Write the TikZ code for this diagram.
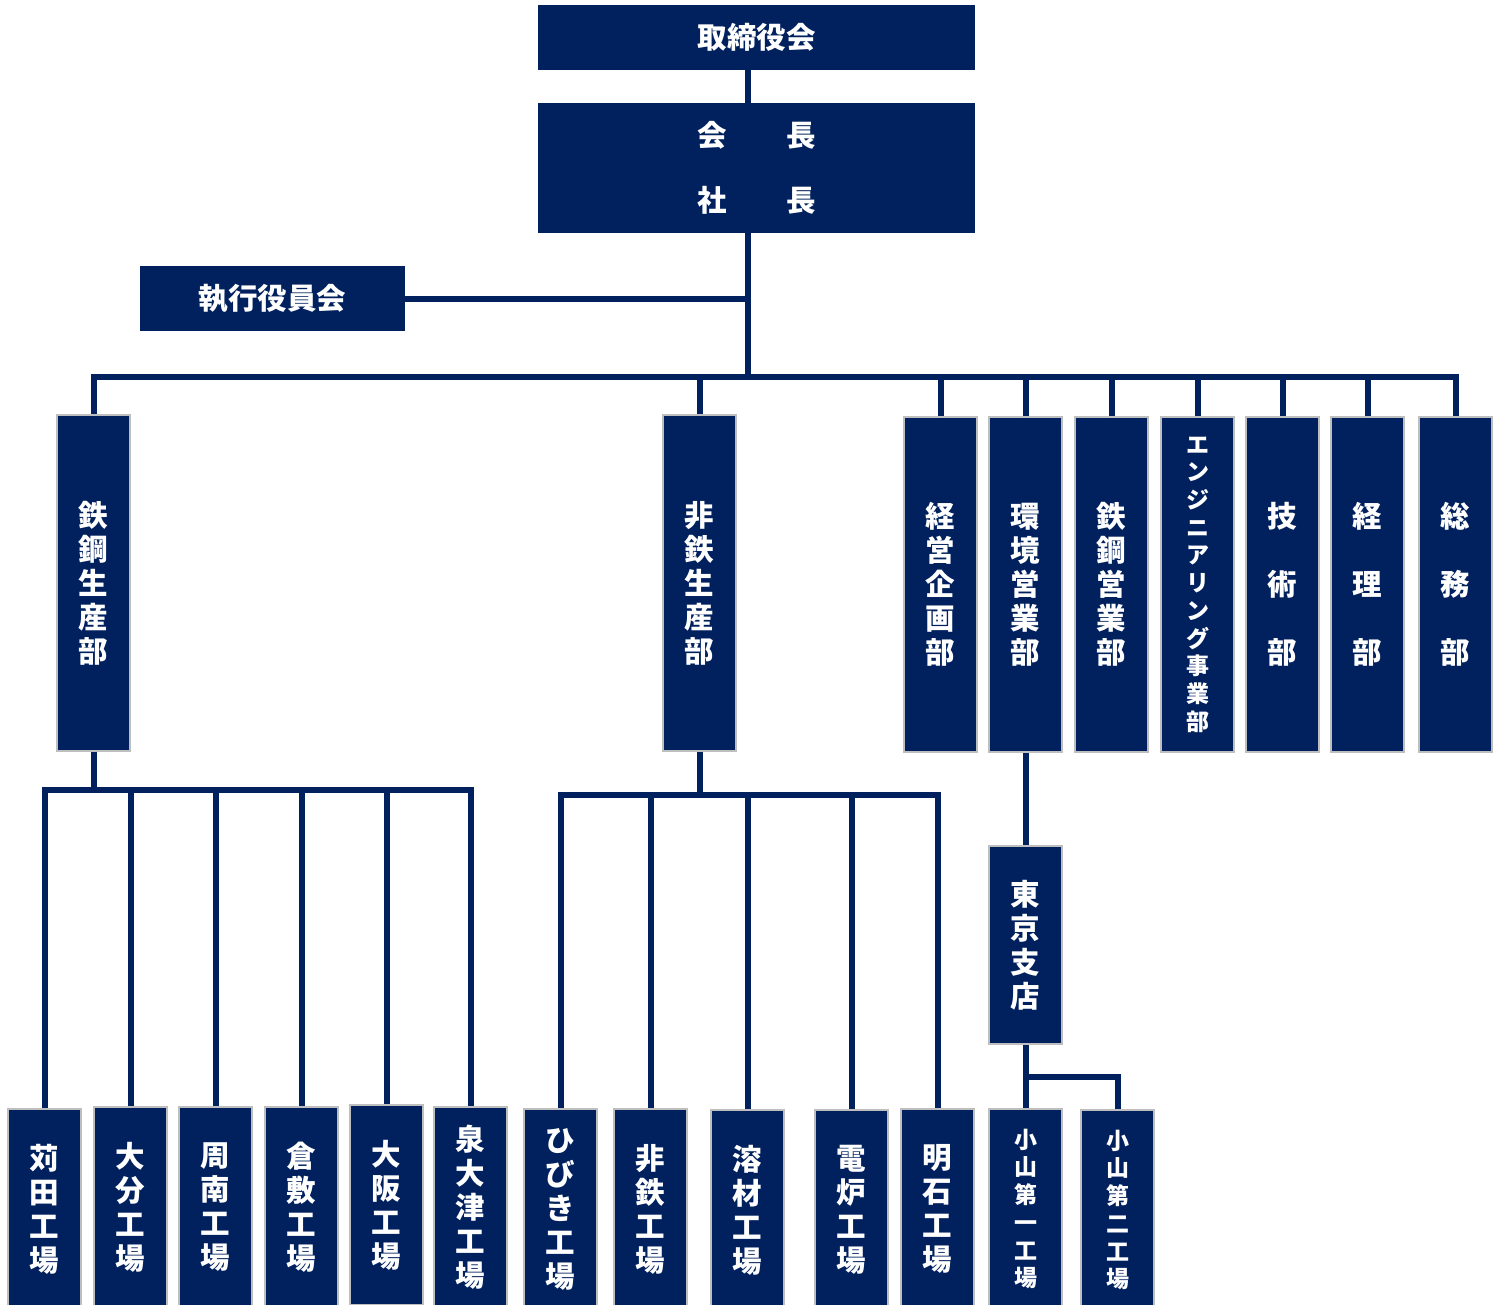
\documentclass[tikz,border=0pt]{standalone}
\usepackage{fontspec}
\newfontfamily\jpfont{Noto Sans CJK JP}
\usetikzlibrary{positioning}
\definecolor{navy}{RGB}{0,32,94}
\definecolor{edge}{RGB}{190,190,190}

\begin{document}
\begin{tikzpicture}[
  x=1pt, y=-1pt,
  box/.style    = {fill=navy, text=white, inner sep=0pt, anchor=north west, align=center,
                   font=\jpfont\bfseries\fontsize{29.5}{34}\selectfont},
  head/.style   = {box, minimum width=437pt},
  unit/.style   = {box, draw=edge, line width=2pt, minimum width=73pt},
  dept/.style   = {unit, minimum height=335pt},
  plant/.style  = {unit, minimum height=200pt},
  small/.style  = {font=\jpfont\bfseries\fontsize{23}{27.7}\selectfont},
  spaced/.style = {font=\jpfont\bfseries\fontsize{29.5}{68}\selectfont},
  link/.style   = {draw=navy, line width=6pt},
]
  \useasboundingbox (0,0) rectangle (1499,1305);

%--- Top: board, chairman / president, executive board ---
  \node[head, minimum height=65pt]  (board) at (538,5)   {取締役会};
  \node[head, minimum height=130pt, font=\jpfont\bfseries\fontsize{29.5}{65}\selectfont]
                                    (chair) at (538,103) {会\hspace{60pt}長\\社\hspace{60pt}長};
  \node[box, minimum width=265pt, minimum height=65pt]
                                    (exec)  at (140,266) {執行役員会};

%--- Middle: departments ---
  \node[dept, minimum height=336pt]        (tetsu)   at (56,414)   {鉄\\鋼\\生\\産\\部};
  \node[dept, minimum height=336pt]        (hitetsu) at (662,414)  {非\\鉄\\生\\産\\部};
  \node[dept]                              (kikaku)  at (903,416)  {経\\営\\企\\画\\部};
  \node[dept]                              (kankyo)  at (988,416)  {環\\境\\営\\業\\部};
  \node[dept]                              (eigyo)   at (1074,416) {鉄\\鋼\\営\\業\\部};
  \node[dept, small]                       (engi)    at (1160,416) {エ\\ン\\ジ\\ニ\\ア\\リ\\ン\\グ\\事\\業\\部};
  \node[dept, spaced]                      (gijutsu) at (1245,416) {技\\術\\部};
  \node[dept, spaced]                      (keiri)   at (1330,416) {経\\理\\部};
  \node[dept, spaced]                      (soumu)   at (1418,416) {総\\務\\部};

  \node[unit, minimum height=198pt]        (tokyo)   at (988,845)  {東\\京\\支\\店};

%--- Bottom: plants ---
  \node[plant]        (kanda)     at (7,1108)    {苅\\田\\工\\場};
  \node[plant]        (oita)      at (93,1106)   {大\\分\\工\\場};
  \node[plant]        (shunan)    at (178,1106)  {周\\南\\工\\場};
  \node[plant]        (kurashiki) at (264,1106)  {倉\\敷\\工\\場};
  \node[plant]        (osaka)     at (349,1104)  {大\\阪\\工\\場};
  \node[plant]        (izumi)     at (433,1106)  {泉\\大\\津\\工\\場};

  \node[plant]        (hibiki)    at (523,1108)  {ひ\\び\\き\\工\\場};
  \node[plant]        (hitetsuk)  at (613,1108)  {非\\鉄\\工\\場};
  \node[plant]        (yozai)     at (710,1109)  {溶\\材\\工\\場};
  \node[plant]        (denro)     at (814,1109)  {電\\炉\\工\\場};
  \node[plant]        (akashi)    at (900,1108)  {明\\石\\工\\場};

  \node[plant, small] (oyama1)    at (988,1108)  {小\\山\\第\\一\\工\\場};
  \node[plant, small] (oyama2)    at (1080,1109) {小\\山\\第\\二\\工\\場};

%--- Connectors ---
  \coordinate (trunk)   at (748,377);
  \coordinate (sbus)    at (93,790);
  \coordinate (nbus)    at (700,795);
  \coordinate (obranch) at (1025,1077);

  \draw[link] (board.south -| trunk) -- (chair.north -| trunk);
  \draw[link] (chair.south -| trunk) -- (trunk);
  \draw[link] (exec.east) -- (exec.east -| trunk);

  \draw[link] (tetsu.north) |- (trunk) -| (soumu.north);
  \draw[link] (hitetsu.north) -- (hitetsu.north |- trunk);
  \draw[link] (kikaku.north)  -- (kikaku.north |- trunk);
  \draw[link] (kankyo.north)  -- (kankyo.north |- trunk);
  \draw[link] (eigyo.north)   -- (eigyo.north |- trunk);
  \draw[link] (engi.north)    -- (engi.north |- trunk);
  \draw[link] (gijutsu.north) -- (gijutsu.north |- trunk);
  \draw[link] (keiri.north)   -- (keiri.north |- trunk);

  \draw[link] (tetsu.south) -- (tetsu.south |- sbus);
  \draw[link] (kanda.north) |- (sbus) -| (izumi.north);
  \draw[link] (oita.north)      -- (oita.north |- sbus);
  \draw[link] (shunan.north)    -- (shunan.north |- sbus);
  \draw[link] (kurashiki.north) -- (kurashiki.north |- sbus);
  \draw[link] (osaka.north)     -- (osaka.north |- sbus);

  \draw[link] (hitetsu.south) -- (hitetsu.south |- nbus);
  \draw[link] (hibiki.north) |- (nbus) -| (akashi.north);
  \draw[link] (hitetsuk.north) -- (hitetsuk.north |- nbus);
  \draw[link] (yozai.north)    -- (yozai.north |- nbus);
  \draw[link] (denro.north)    -- (denro.north |- nbus);

  \draw[link] (kankyo.south) -- (tokyo.north);
  \draw[link] (tokyo.south) -- (oyama1.north);
  \draw[link] (obranch) -| (oyama2.north);
\end{tikzpicture}
\end{document}
